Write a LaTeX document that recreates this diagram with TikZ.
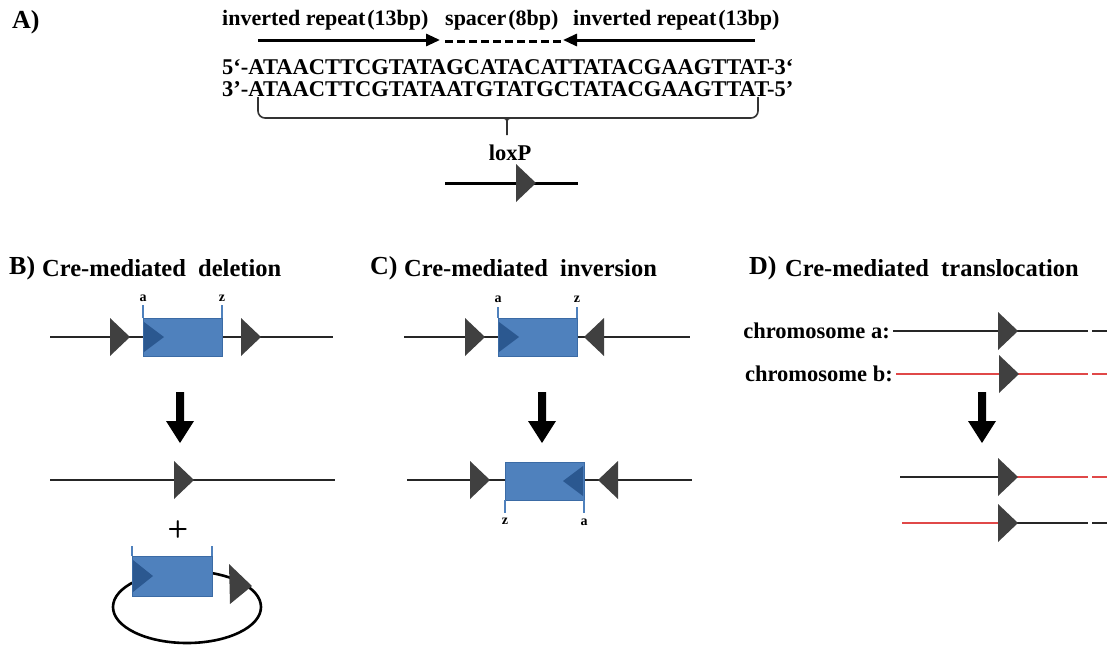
\documentclass[tikz,border=0pt]{standalone}
\usepackage{fontspec}
\setmainfont{Liberation Serif}
\usetikzlibrary{arrows.meta}
\definecolor{lox}{HTML}{404040}
\definecolor{boxblue}{HTML}{4F81BD}
\definecolor{boxedge}{HTML}{3B6BA5}
\definecolor{innerblue}{HTML}{2B5890}
\definecolor{chrred}{HTML}{E04848}
\tikzset{
  dna/.style={line width=1.8pt, black!85},
  reddna/.style={line width=1.8pt, chrred},
  ttl/.style={font=\fontsize{24.5}{28}\selectfont\bfseries, anchor=west, inner sep=0pt},
  ttlbig/.style={font=\fontsize{26}{28}\selectfont\bfseries, anchor=west, inner sep=0pt},
  lbl/.style={font=\fontsize{22.5}{26}\selectfont\bfseries, inner sep=0pt},
  toplbl/.style={font=\fontsize{22}{26}\selectfont\bfseries, inner sep=0pt, anchor=west},
  seq/.style={font=\fontsize{22.5}{26}\selectfont\bfseries, anchor=west, inner sep=0pt},
  small/.style={font=\fontsize{14}{16}\selectfont\bfseries, inner sep=0pt},
  genebox/.style={fill=boxblue, draw=boxedge, line width=1pt},
  bracketline/.style={draw=boxblue, line width=1.6pt},
  bracestyle/.style={line width=1.6pt, black!80},
  loxr/.pic={\fill[lox] (-20,-19) -- (0,0) -- (-20,19) -- cycle;},
  loxl/.pic={\fill[lox] (20,-19) -- (0,0) -- (20,19) -- cycle;},
  downarrow/.pic={\fill[black] (-4,0) -- (4,0) -- (4,29) -- (14,29) -- (0,51) -- (-14,29) -- (-4,29) -- cycle;},
  repeatarrow/.style={line width=3pt, -{Triangle[length=14pt,width=12pt]}},
}
\begin{document}
\begin{tikzpicture}[x=1pt,y=-1pt]
\useasboundingbox (0,0) rectangle (1107,645);

% ---------------- A ----------------
\node[ttlbig] (tA) at (12,22) {A)};
\node[toplbl] (ir1) at (222,20) {inverted repeat\hspace{2pt}(13bp)};
\node[toplbl] (sp) at (445,20) {spacer\hspace{2pt}(8bp)};
\node[toplbl] (ir2) at (573,20) {inverted repeat\hspace{2pt}(13bp)};
\coordinate (a1s) at (258,40); \coordinate (a1e) at (440,40);
\coordinate (a2s) at (755,40); \coordinate (a2e) at (563,40);
\draw[repeatarrow] (a1s) -- (a1e);
\draw[repeatarrow] (a2s) -- (a2e);
\coordinate (ds) at (445,41); \coordinate (de) at (562,41);
\draw[line width=3pt, dash pattern=on 8pt off 4pt] (ds) -- (de);
\node[seq] (s1) at (222,67) {5‘-ATAACTTCGTATAGCATACATTATACGAAGTTAT-3‘};
\node[seq] (s2) at (222,89) {3’-ATAACTTCGTATAATGTATGCTATACGAAGTTAT-5’};
\coordinate (bl) at (258,97); \coordinate (br) at (758,97);
\coordinate (bm) at (507,124); \coordinate (bt) at (507,135);
\draw[bracestyle, rounded corners=7pt] (bl) -- (258,118) -- (758,118) -- (br);
\draw[bracestyle] (501,118) .. controls (507,118) and (507,119) .. (bm) -- (bt);
\draw[bracestyle] (513,118) .. controls (507,118) and (507,119) .. (bm);
\node[lbl] (loxp) at (510,153) {loxP};
\coordinate (lxs) at (445,183); \coordinate (lxe) at (578,183);
\draw[line width=3pt] (lxs) -- (lxe);
\pic at (536,183) {loxr};

% ---------------- B ----------------
\node[ttlbig] (tB) at (9,268) {B)};
\node[ttl] (tB2) at (42,268) {Cre-mediated\ \ deletion};
\coordinate (b1s) at (50,337); \coordinate (b1e) at (333,337);
\draw[dna] (b1s) -- (b1e);
\pic at (130,337) {loxr};
\draw[genebox] (143,318) rectangle (222,356);
\fill[innerblue] (144,322) -- (164,337) -- (144,352) -- cycle;
\draw[bracketline] (143,318) -- (143,305);
\draw[bracketline] (222,318) -- (222,305);
\node[small] (ba) at (143,298) {a};
\node[small] (bz) at (222,298) {z};
\pic at (261,337) {loxr};
\pic at (180,392) {downarrow};
\coordinate (b2s) at (50,480); \coordinate (b2e) at (335,480);
\draw[dna] (b2s) -- (b2e);
\pic at (194,480) {loxr};
\node[font=\fontsize{24}{28}\selectfont\sffamily\bfseries, inner sep=0pt] (plus) at (178,529) {+};
\draw[line width=2.6pt] (187,607) ellipse [x radius=74, y radius=36];
\draw[genebox] (132,556) rectangle (212,596);
\fill[innerblue] (133,560) -- (153,576) -- (133,592) -- cycle;
\draw[bracketline] (132,556) -- (132,546);
\draw[bracketline] (212,556) -- (212,546);
\fill[lox] (229,564) -- (252,586) -- (230,604) -- cycle;

% ---------------- C ----------------
\node[ttlbig] (tC) at (370,268) {C)};
\node[ttl] (tC2) at (404,268) {Cre-mediated\ \ inversion};
\coordinate (c1s) at (404,337); \coordinate (c1e) at (690,337);
\draw[dna] (c1s) -- (c1e);
\pic at (485,337) {loxr};
\draw[genebox] (498,318) rectangle (577,356);
\fill[innerblue] (499,322) -- (519,337) -- (499,352) -- cycle;
\draw[bracketline] (498,318) -- (498,307);
\draw[bracketline] (577,318) -- (577,307);
\node[small] (ca) at (498,299) {a};
\node[small] (cz) at (577,299) {z};
\pic at (584,337) {loxl};
\pic at (542,392) {downarrow};
\coordinate (c2s) at (407,480); \coordinate (c2e) at (692,480);
\draw[dna] (c2s) -- (c2e);
\pic at (490,480) {loxr};
\draw[genebox] (505,462) rectangle (584,500);
\fill[innerblue] (583,466) -- (563,481) -- (583,496) -- cycle;
\draw[bracketline] (505,500) -- (505,513);
\draw[bracketline] (584,500) -- (584,513);
\node[small] (cz2) at (505,521) {z};
\node[small] (ca2) at (584,522) {a};
\pic at (598,480) {loxl};

% ---------------- D ----------------
\node[ttlbig] (tD) at (749,268) {D)};
\node[ttl] (tD2) at (785,268) {Cre-mediated\ \ translocation};
\node[lbl, anchor=east] (chra) at (890,331) {chromosome a:};
\node[lbl, anchor=east] (chrb) at (893,374) {chromosome b:};
\coordinate (da1) at (893,331); \coordinate (da2) at (1088,331);
\coordinate (da3) at (1092,331); \coordinate (da4) at (1107,331);
\draw[dna] (da1) -- (da2); \draw[dna] (da3) -- (da4);
\pic at (1018,331) {loxr};
\coordinate (db1) at (896,374); \coordinate (db2) at (1088,374);
\coordinate (db3) at (1092,374); \coordinate (db4) at (1107,374);
\draw[reddna] (db1) -- (db2); \draw[reddna] (db3) -- (db4);
\pic at (1019,374) {loxr};
\pic at (982,392) {downarrow};
\coordinate (dc1) at (900,477); \coordinate (dc2) at (1005,477);
\coordinate (dc3) at (1088,477); \coordinate (dc4) at (1092,477); \coordinate (dc5) at (1107,477);
\draw[dna] (dc1) -- (dc2);
\draw[reddna] (dc2) -- (dc3); \draw[reddna] (dc4) -- (dc5);
\pic at (1018,477) {loxr};
\coordinate (dd1) at (902,523); \coordinate (dd2) at (1005,523);
\coordinate (dd3) at (1088,523); \coordinate (dd4) at (1092,523); \coordinate (dd5) at (1107,523);
\draw[reddna] (dd1) -- (dd2);
\draw[dna] (dd2) -- (dd3); \draw[dna] (dd4) -- (dd5);
\pic at (1018,523) {loxr};
\end{tikzpicture}
\end{document}
